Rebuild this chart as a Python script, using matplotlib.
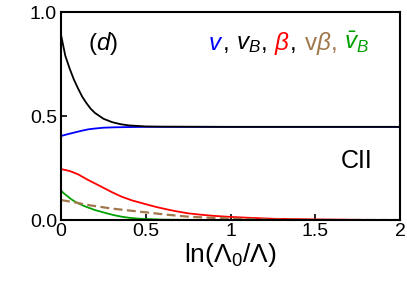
import matplotlib
matplotlib.use("Agg")
import matplotlib.pyplot as plt
from matplotlib.offsetbox import TextArea, HPacker, AnchoredOffsetbox

plt.rcParams['font.family'] = ['Liberation Sans', 'DejaVu Sans']
plt.rcParams['mathtext.fontset'] = 'custom'
plt.rcParams['mathtext.rm'] = 'Liberation Sans'
plt.rcParams['mathtext.it'] = 'Liberation Sans:italic'

# values
x_vb = [0, 0.025, 0.05, 0.075, 0.1, 0.125, 0.15, 0.175, 0.2, 0.25, 0.3, 0.35,
        0.4, 0.5, 0.6, 1.0, 1.5, 2.0]
vb = [0.89, 0.79, 0.73, 0.677, 0.633, 0.593, 0.562, 0.535, 0.515, 0.487, 0.471,
      0.461, 0.455, 0.450, 0.449, 0.448, 0.448, 0.448]

x_v = [0, 0.04, 0.08, 0.12, 0.16, 0.2, 0.25, 0.32, 0.4, 0.5, 1.0, 1.5, 2.0]
v = [0.404, 0.413, 0.421, 0.429, 0.436, 0.440, 0.444, 0.446, 0.447, 0.448,
     0.448, 0.448, 0.448]

x_beta = [0, 0.05, 0.1, 0.161, 0.2, 0.25, 0.3, 0.358, 0.42, 0.496, 0.56, 0.62,
          0.68, 0.751, 0.82, 0.9, 1.0, 1.1, 1.25, 1.5, 1.75, 2.0]
beta = [0.245, 0.236, 0.220, 0.192, 0.176, 0.155, 0.134, 0.112, 0.094, 0.077,
        0.063, 0.052, 0.042, 0.032, 0.026, 0.020, 0.015, 0.011, 0.006, 0.003,
        0.001, 0.0]

x_vbeta = [0, 0.08, 0.161, 0.3, 0.4, 0.5, 0.62, 0.75, 0.9, 1.07, 1.2, 1.5, 2.0]
vbeta = [0.096, 0.085, 0.072, 0.055, 0.046, 0.037, 0.026, 0.016, 0.010, 0.005,
         0.002, 0.0, 0.0]

x_vbbar = [0, 0.02, 0.04, 0.06, 0.083, 0.11, 0.14, 0.17, 0.2, 0.24, 0.28, 0.32,
           0.358, 0.4, 0.45, 0.5, 0.6, 0.7, 1.0, 2.0]
vbbar = [0.141, 0.126, 0.113, 0.100, 0.088, 0.077, 0.066, 0.057, 0.048, 0.039,
         0.030, 0.022, 0.016, 0.011, 0.007, 0.005, 0.002, 0.001, 0.0, 0.0]

fig = plt.figure(figsize=(4.07, 2.81), dpi=100)
ax = fig.add_axes([0.150, 0.217, 0.833, 0.740])

ax.plot(x_v, v, color='#0000ff', lw=1.3)
ax.plot(x_vb, vb, color='black', lw=1.3)
ax.plot(x_beta, beta, color='#ff0000', lw=1.3)
ax.plot(x_vbbar, vbbar, color='#00a000', lw=1.3)
ax.plot(x_vbeta, vbeta, color='#a0784b', lw=1.6, dashes=(4, 2))

ax.set_xlim(0, 2)
ax.set_ylim(0, 1)
ax.set_xticks([0, 0.5, 1, 1.5, 2])
ax.set_xticklabels(['0', '0.5', '1', '1.5', '2'])
ax.set_yticks([0, 0.5, 1.0])
ax.set_yticklabels(['0.0', '0.5', '1.0'])
ax.tick_params(direction='in', length=4, width=1.2, labelsize=14, pad=2)
ax.tick_params(axis='y', pad=3)
for s in ax.spines.values():
    s.set_linewidth(1.5)

ax.set_xlabel(r'ln($\Lambda_0$/$\Lambda$)', fontsize=19, labelpad=1)

ax.text(0.124, 0.851, r'($d$)', transform=ax.transAxes, fontsize=17.5,
        ha='center', va='center')
ax.text(0.873, 0.284, 'CII', transform=ax.transAxes, fontsize=18,
        ha='center', va='center')

# coloured legend line
pieces = [(r'$v$', '#0000ff'), (', ', 'black'), (r'$v_B$', 'black'), (', ', 'black'),
          (r'$\beta$', '#ff0000'), (', ', 'black'), (r'v$\beta$', '#a0784b'),
          (', ', '#a0784b'), (r'$\bar{v}_B$', '#00a000')]
areas = [TextArea(t, textprops=dict(color=c, fontsize=17.5)) for t, c in pieces]
box = HPacker(children=areas, align='baseline', pad=0, sep=0)
anch = AnchoredOffsetbox(loc='center right', child=box, frameon=False,
                         bbox_to_anchor=(0.91, 0.851), bbox_transform=ax.transAxes,
                         borderpad=0, pad=0)
ax.add_artist(anch)

fig.savefig('out.png', dpi=100)
